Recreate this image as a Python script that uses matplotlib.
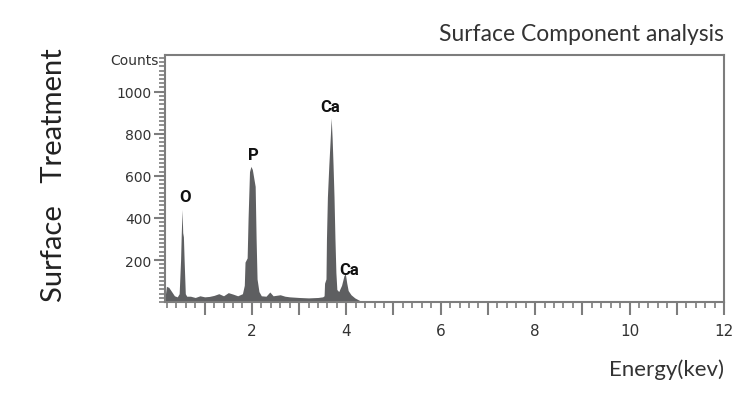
import matplotlib.pyplot as plt
from matplotlib.ticker import MultipleLocator, FixedLocator

# espectro EDS (energía en keV, cuentas)
energia = [0.16, 0.19, 0.24, 0.30, 0.36, 0.42, 0.46, 0.49, 0.505, 0.522, 0.535, 0.55, 0.565, 0.59, 0.62,
           0.70, 0.80, 0.90, 1.00, 1.10, 1.20, 1.30, 1.40, 1.50, 1.60, 1.70,
           1.80, 1.84, 1.855, 1.90, 1.92, 1.95, 1.98, 2.01, 2.04, 2.07, 2.09, 2.11, 2.15, 2.20,
           2.30, 2.38, 2.45, 2.60, 2.70, 2.80, 3.00, 3.20, 3.40, 3.50,
           3.53, 3.54, 3.57, 3.58, 3.60, 3.63, 3.66, 3.68, 3.70, 3.72, 3.74, 3.76, 3.78, 3.80,
           3.84, 3.90, 3.95, 3.98, 4.01, 4.04, 4.10, 4.18, 4.28, 4.40, 12.0]
cuentas = [20, 75, 70, 50, 30, 25, 40, 200, 330, 440, 330, 310, 200, 40, 28,
           28, 22, 30, 25, 27, 32, 40, 30, 45, 38, 30,
           40, 80, 190, 210, 400, 620, 645, 630, 590, 550, 300, 110, 50, 30,
           28, 48, 30, 35, 28, 25, 22, 20, 22, 25,
           30, 90, 110, 300, 500, 650, 780, 875, 780, 650, 500, 300, 140, 60,
           50, 80, 125, 135, 90, 55, 35, 20, 8, 0, 0]

# etiquetas de los elementos
elementos = ['O', 'P', 'Ca', 'Ca']
elem_x = [0.58, 2.03, 3.65, 4.07]
elem_y = [500, 700, 928, 157]

gris = '#5e5f61'
eje = '#7d7d7d'

fig = plt.figure(figsize=(7.5, 4.02), dpi=100)
ax = fig.add_axes([0.22, 0.246, 0.7453, 0.615])
ax.fill_between(energia, cuentas, 0, color=gris, linewidth=0)
ax.set_xlim(0.16, 12)
ax.set_ylim(0, 1175)

for s in ax.spines.values():
    s.set_color(eje)
    s.set_linewidth(1.5)

# ticks del eje x
ax.xaxis.set_major_locator(MultipleLocator(1))
ax.xaxis.set_minor_locator(MultipleLocator(0.2))
ax.set_xticklabels([str(int(t)) if int(t) % 2 == 0 and t > 0 else '' for t in ax.get_xticks()])
ax.tick_params(axis='x', which='major', length=9, width=1.5, color=eje, pad=6,
               labelsize=11, labelcolor='#333333')
ax.tick_params(axis='x', which='minor', length=4, width=1.2, color=eje)

# ticks del eje y
ax.yaxis.set_major_locator(FixedLocator([200, 400, 600, 800, 1000]))
ax.yaxis.set_minor_locator(MultipleLocator(20))
ax.tick_params(axis='y', which='major', length=8, width=1.5, color=eje, pad=2,
               labelsize=10, labelcolor='#333333')
ax.tick_params(axis='y', which='minor', length=4, width=1.2, color=eje)
ax.text(-0.012, 1150, 'Counts', transform=ax.get_yaxis_transform(), ha='right', va='center',
        fontsize=10, color='#333333')

for e, x, y in zip(elementos, elem_x, elem_y):
    ax.text(x, y, e, ha='center', va='center', fontsize=12, fontweight='bold',
            family='Roboto', color='#111111')

fig.text(0.965, 0.915, 'Surface Component analysis', ha='right', va='center',
         fontsize=16.5, family='Lato', color='#333333')
fig.text(0.965, 0.08, 'Energy(kev)', ha='right', va='center',
         fontsize=16, family='Lato', color='#333333')
fig.text(0.072, 0.565, 'Surface   Treatment', rotation=90, ha='center', va='center',
         fontsize=21, family='Lato', fontweight='normal', color='#222222')

plt.savefig('out.png', dpi=100)
